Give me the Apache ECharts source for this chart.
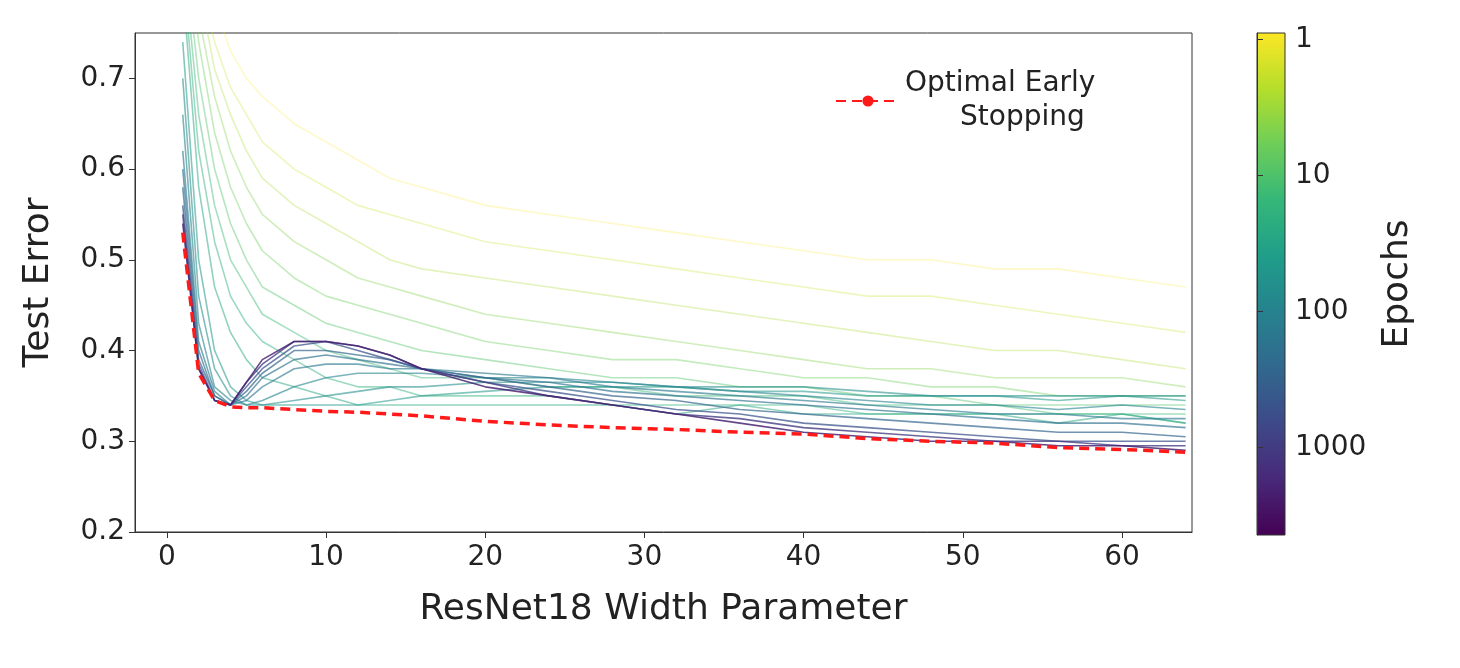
<!DOCTYPE html>
<html>
<head>
<meta charset="utf-8">
<script src="https://cdn.jsdelivr.net/npm/echarts@6/dist/echarts.min.js"></script>
<style>html,body{margin:0;background:#fff}#c{width:1460px;height:668px}</style>
</head>
<body>
<div id="c"></div>
<script>
// widths where curves are sampled
var widths = [1,2,3,4,5,6,8,10,12,14,16,20,24,28,32,36,40,44,48,52,56,60,64];
var epochs = [1,2,3,5,7,10,15,20,30,50,70,100,150,200,300,500,1000,2000];
var curves = [
  [0.95,0.85,0.78,0.73,0.70,0.68,0.65,0.63,0.61,0.59,0.58,0.56,0.55,0.54,0.53,0.52,0.51,0.50,0.50,0.49,0.49,0.48,0.47],
  [0.93,0.82,0.74,0.69,0.66,0.63,0.60,0.58,0.56,0.55,0.54,0.52,0.51,0.50,0.49,0.48,0.47,0.46,0.46,0.45,0.44,0.43,0.42],
  [0.92,0.80,0.71,0.66,0.62,0.59,0.56,0.54,0.52,0.50,0.49,0.48,0.47,0.46,0.45,0.44,0.43,0.42,0.41,0.40,0.40,0.39,0.38],
  [0.90,0.77,0.68,0.62,0.58,0.55,0.52,0.50,0.48,0.47,0.46,0.44,0.43,0.42,0.41,0.40,0.39,0.38,0.38,0.37,0.37,0.37,0.36],
  [0.88,0.74,0.64,0.58,0.54,0.51,0.48,0.46,0.45,0.44,0.43,0.41,0.40,0.39,0.39,0.38,0.37,0.37,0.36,0.36,0.35,0.35,0.35],
  [0.86,0.70,0.60,0.54,0.50,0.47,0.45,0.43,0.42,0.41,0.40,0.39,0.38,0.37,0.37,0.36,0.36,0.35,0.35,0.34,0.34,0.34,0.34],
  [0.84,0.66,0.56,0.50,0.47,0.44,0.42,0.40,0.39,0.38,0.37,0.37,0.36,0.36,0.35,0.35,0.35,0.34,0.34,0.34,0.33,0.33,0.33],
  [0.82,0.62,0.52,0.46,0.43,0.41,0.39,0.37,0.36,0.36,0.35,0.35,0.35,0.34,0.34,0.34,0.34,0.33,0.33,0.33,0.33,0.33,0.32],
  [0.80,0.58,0.47,0.42,0.39,0.37,0.36,0.35,0.34,0.34,0.34,0.34,0.34,0.34,0.33,0.34,0.33,0.33,0.33,0.33,0.32,0.33,0.32],
  [0.74,0.50,0.40,0.36,0.345,0.34,0.34,0.34,0.34,0.345,0.35,0.355,0.36,0.36,0.36,0.355,0.355,0.35,0.35,0.35,0.345,0.35,0.345],
  [0.70,0.46,0.38,0.35,0.34,0.34,0.345,0.35,0.355,0.36,0.36,0.365,0.365,0.365,0.36,0.36,0.36,0.355,0.35,0.35,0.35,0.35,0.35],
  [0.66,0.43,0.36,0.345,0.34,0.345,0.36,0.37,0.375,0.375,0.375,0.37,0.37,0.365,0.36,0.355,0.35,0.345,0.34,0.34,0.335,0.34,0.335],
  [0.62,0.41,0.355,0.34,0.345,0.36,0.38,0.385,0.385,0.38,0.38,0.375,0.37,0.36,0.355,0.35,0.345,0.34,0.335,0.33,0.33,0.325,0.325],
  [0.60,0.40,0.35,0.34,0.35,0.37,0.39,0.395,0.39,0.385,0.38,0.37,0.365,0.355,0.35,0.345,0.34,0.335,0.33,0.325,0.32,0.32,0.315],
  [0.58,0.39,0.35,0.34,0.355,0.375,0.40,0.40,0.395,0.39,0.38,0.37,0.36,0.35,0.345,0.335,0.33,0.325,0.32,0.315,0.31,0.31,0.305],
  [0.56,0.385,0.345,0.34,0.36,0.38,0.405,0.41,0.40,0.39,0.38,0.365,0.355,0.345,0.335,0.33,0.32,0.315,0.31,0.305,0.30,0.30,0.30],
  [0.55,0.38,0.345,0.34,0.365,0.385,0.41,0.41,0.405,0.395,0.38,0.365,0.35,0.34,0.33,0.325,0.315,0.31,0.305,0.30,0.30,0.295,0.295],
  [0.54,0.38,0.345,0.34,0.365,0.39,0.41,0.41,0.405,0.395,0.38,0.36,0.35,0.34,0.33,0.32,0.31,0.305,0.30,0.30,0.295,0.295,0.29]
];
var optimal = [0.53,0.375,0.345,0.338,0.337,0.337,0.335,0.333,0.332,0.330,0.328,0.322,0.318,0.315,0.313,0.310,0.308,0.303,0.300,0.298,0.293,0.291,0.288];
var xTicks = [0,10,20,30,40,50,60];
var cbarTicks = [1,10,100,1000];

var viridis = ['#440154','#482878','#3e4989','#31688e','#26828e','#1f9e89','#35b779','#6ece58','#b5de2b','#fde725'];
function vcolor(t) { // t: 0 = purple, 1 = yellow
  t = Math.max(0, Math.min(1, t));
  var p = t * (viridis.length - 1), i = Math.floor(p), f = p - i;
  if (i >= viridis.length - 1) return viridis[viridis.length - 1];
  var a = viridis[i], b = viridis[i + 1];
  function ch(s, k) { return parseInt(s.substr(1 + 2 * k, 2), 16); }
  var r = [0,1,2].map(function (k) { return Math.round(ch(a,k) + (ch(b,k) - ch(a,k)) * f); });
  return 'rgb(' + r.join(',') + ')';
}
var logMax = Math.log10(4400);

var chart = echarts.init(document.getElementById('c'));
var font = 'DejaVu Sans';
var series = curves.map(function (c, k) {
  var t = 1 - Math.log10(epochs[k]) / logMax;
  return {
    type: 'line', xAxisIndex: 0, yAxisIndex: 0, showSymbol: false, silent: true,
    data: widths.map(function (w, i) { return [w, c[i]]; }),
    lineStyle: { width: 1.6, color: vcolor(t), opacity: 0.25 + 0.65 * (1 - t) },
    z: 2
  };
});
series.push({
  name: 'Optimal Early\nStopping', type: 'line', showSymbol: false, symbol: 'none',
  data: widths.map(function (w, i) { return [w, optimal[i]]; }),
  lineStyle: { width: 3.5, color: '#ff1a1a', type: [10, 6] }, itemStyle: { color: '#ff1a1a' }, z: 5
});

chart.setOption({
  animation: false,
  textStyle: { fontFamily: font },
  legend: {
    data: ['Optimal Early\nStopping'], left: 830, top: 62, itemWidth: 64, itemHeight: 14, itemGap: 28,
    textStyle: { fontSize: 28, color: '#222', fontFamily: font, lineHeight: 34,
      rich: { c: { fontSize: 28, color: '#222', align: 'center', lineHeight: 34 } } },
    formatter: function () { return '{c|Optimal Early}\n{c|     Stopping}'; }
  },
  grid: [
    { left: 135, right: 268, top: 33, bottom: 136, show: true, borderColor: '#333', borderWidth: 1 },
    { left: 1257, width: 28, top: 33, bottom: 133, show: true, borderColor: '#333',
      backgroundColor: new echarts.graphic.LinearGradient(0, 0, 0, 1,
        viridis.slice().reverse().map(function (c, i) { return { offset: i / (viridis.length - 1), color: c }; })) }
  ],
  xAxis: [
    { type: 'value', gridIndex: 0, min: -2, max: 64.4,
      name: 'ResNet18 Width Parameter', nameLocation: 'middle', nameGap: 60,
      nameTextStyle: { fontSize: 36, color: '#222' },
      axisLine: { onZero: false, lineStyle: { color: '#333' } },
      axisTick: { show: true, length: 6, lineStyle: { color: '#333' }, customValues: xTicks },
      axisLabel: { fontSize: 28, color: '#222', margin: 12, customValues: xTicks },
      splitLine: { show: false } },
    { type: 'value', gridIndex: 1, show: false, min: 0, max: 1 }
  ],
  yAxis: [
    { type: 'value', gridIndex: 0, min: 0.2, max: 0.75, interval: 0.1,
      name: 'Test Error', nameLocation: 'middle', nameGap: 78,
      nameTextStyle: { fontSize: 36, color: '#222' },
      axisLine: { show: true, onZero: false, lineStyle: { color: '#333' } },
      axisTick: { show: true, length: 6, lineStyle: { color: '#333' } },
      axisLabel: { fontSize: 28, color: '#222', margin: 10, showMaxLabel: false,
        formatter: function (v) { return v > 0.72 ? '' : v.toFixed(1); } },
      splitLine: { show: false } },
    { type: 'log', gridIndex: 1, min: 0.9, max: 4400, inverse: true, position: 'right',
      name: 'Epochs', nameLocation: 'middle', nameGap: 95, nameRotate: 90,
      nameTextStyle: { fontSize: 36, color: '#222' },
      axisLine: { show: true, lineStyle: { color: '#333' } },
      axisTick: { show: true, length: 6, lineStyle: { color: '#333' } },
      axisLabel: { fontSize: 28, color: '#222', margin: 10, showMinLabel: false, showMaxLabel: false,
        formatter: function (v) { return cbarTicks.indexOf(Math.round(v)) >= 0 ? Math.round(v) : ''; } },
      splitLine: { show: false } }
  ],
  series: series
});
</script>
</body>
</html>
